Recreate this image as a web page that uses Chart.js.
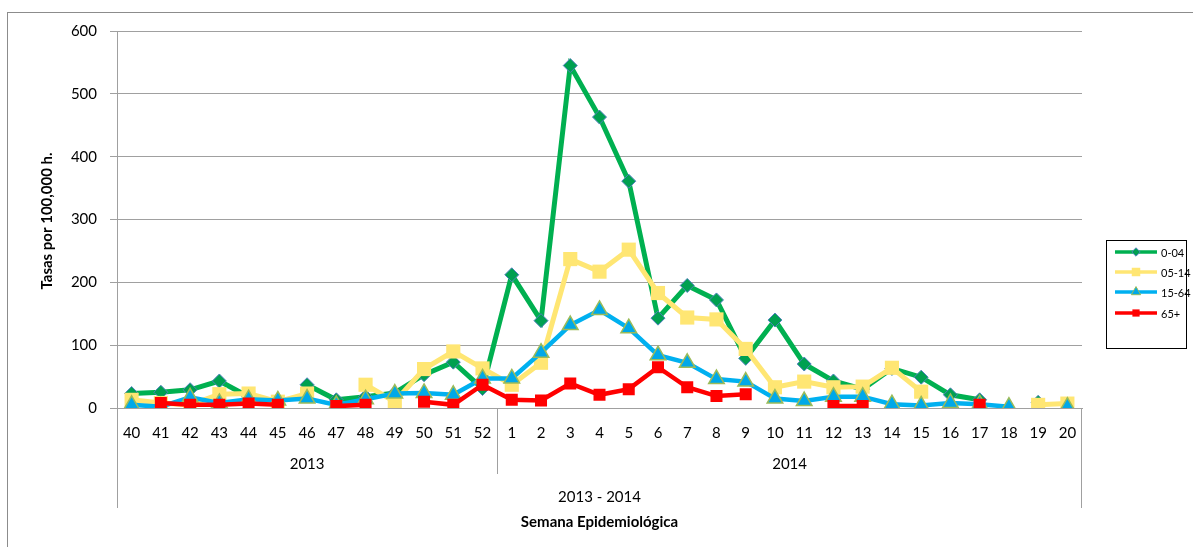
<!DOCTYPE html>
<html>
<head>
<meta charset="utf-8">
<script src="https://cdn.jsdelivr.net/npm/chart.js@4.4.1/dist/chart.umd.min.js"></script>
<style>
  html, body { margin: 0; padding: 0; background: #fff; overflow: hidden; }
  #wrap { position: relative; width: 1193px; height: 547px; }
  #frame { position: absolute; left: 7px; top: 12px; width: 1200px; height: 600px; border: 1px solid #8c8c8c; box-sizing: border-box; }
  canvas { position: absolute; left: 0; top: 0; }
</style>
</head>
<body>
<div id="wrap">
  <div id="frame"></div>
  <canvas id="chart" width="1193" height="547"></canvas>
</div>
<script>
const weeks = ['40','41','42','43','44','45','46','47','48','49','50','51','52',
  '1','2','3','4','5','6','7','8','9','10','11','12','13','14','15','16','17','18','19','20'];
const years = [ { label: '2013', from: 0, to: 12 }, { label: '2014', from: 13, to: 32 } ];
const seasonLabel = '2013 - 2014';

const age0_04  = [23, 25, 29, 43, 18, null, 37, 13, 18, 24, 53, 73, 31,
  212, 139, 545, 463, 361, 143, 195, 172, 79, 140, 70, 43, 30, 63, 49, 21, 13, null, 9, null];
const age05_14 = [13, 8, 5, 22, 23, 10, 23, null, 37, 10, 62, 90, 63,
  37, 72, 237, 217, 252, 183, 144, 141, 94, 33, 42, 33, 34, 64, 26, null, null, null, 5, 7];
const age15_64 = [5, 2, 17, 8, 14, 12, 15, 5, 14, 23, 24, 21, 47,
  47, 88, 132, 156, 127, 84, 72, 46, 42, 15, 11, 18, 18, 6, 4, 8, 6, 2, null, 2];
const age65    = [null, 8, 5, 5, 7, 5, null, 3, 5, null, 10, 5, 37,
  13, 12, 39, 21, 30, 65, 33, 19, 22, null, null, 3, 3, null, null, null, 5, null, null, null];

const FONT = 'Lato, "Open Sans", sans-serif';
const GRID = '#a0a0a0';

const series = [
  { label: '0-04',  data: age0_04,  color: '#00b050', style: 'rectRot',  radius: 7,   fill: '#00a050', border: '#4f81bd', bw: 1,   order: 4, width: 5 },
  { label: '05-14', data: age05_14, color: '#ffe673', style: 'rect',     radius: 10,  fill: '#ffe673', border: '#ffe673', bw: 0,   order: 3, width: 5 },
  { label: '15-64', data: age15_64, color: '#00b0f0', style: 'triangle', radius: 9,   fill: '#00a8e8', border: '#9bbb59', bw: 1.5, order: 2, width: 4.5 },
  { label: '65+',   data: age65,    color: '#ff0000', style: 'rect',     radius: 8.5, fill: '#ff0000', border: '#ff0000', bw: 0,   order: 1, width: 4.5 }
];

const extras = {
  id: 'extras',
  afterDraw(chart) {
    const { ctx, chartArea: a, scales: { x } } = chart;
    const step = (a.right - a.left) / weeks.length;
    ctx.save();
    ctx.strokeStyle = GRID;
    ctx.lineWidth = 1;
    // category group dividers
    ctx.beginPath();
    ctx.moveTo(a.left + 0.5, a.bottom); ctx.lineTo(a.left + 0.5, 508);
    ctx.moveTo(a.right - 0.5, a.bottom); ctx.lineTo(a.right - 0.5, 508);
    const sep = Math.round(x.getPixelForValue(12) + step / 2) + 0.5;
    ctx.moveTo(sep, a.bottom); ctx.lineTo(sep, 474);
    ctx.stroke();

    ctx.fillStyle = '#000';
    ctx.textAlign = 'center';
    ctx.textBaseline = 'middle';
    ctx.font = '15px ' + FONT;
    years.forEach(yr => {
      const cx = (x.getPixelForValue(yr.from) + x.getPixelForValue(yr.to)) / 2;
      ctx.fillText(yr.label, cx, 464);
    });
    ctx.fillText(seasonLabel, (a.left + a.right) / 2, 497);
    ctx.font = 'bold 15px ' + FONT;
    ctx.fillText('Semana Epidemiológica', (a.left + a.right) / 2, 522);

    // y axis title
    ctx.save();
    ctx.translate(47, 221);
    ctx.rotate(-Math.PI / 2);
    ctx.font = 'bold 15px ' + FONT;
    ctx.fillText('Tasas por 100,000 h.', 0, 0);
    ctx.restore();

    // legend
    ctx.strokeStyle = '#000';
    ctx.lineWidth = 1;
    ctx.strokeRect(1106.5, 240.5, 80, 108);
    const rows = [252, 272, 292, 313];
    series.forEach((s, i) => {
      const y = rows[i];
      ctx.strokeStyle = s.color;
      ctx.lineWidth = 3.5;
      ctx.beginPath(); ctx.moveTo(1115, y); ctx.lineTo(1157, y); ctx.stroke();
      ctx.fillStyle = s.fill;
      ctx.strokeStyle = s.border;
      ctx.lineWidth = 1;
      Chart.helpers.drawPoint(ctx, { pointStyle: s.style, radius: s.radius * 0.6, borderWidth: s.bw }, 1136, y);
      ctx.fillStyle = '#000';
      ctx.textAlign = 'left';
      ctx.font = '11px ' + FONT;
      ctx.fillText(s.label, 1161, y + 1);
    });
    ctx.restore();
  }
};

new Chart(document.getElementById('chart'), {
  type: 'line',
  data: {
    labels: weeks,
    datasets: series.map(s => ({
      label: s.label,
      data: s.data,
      borderColor: s.color,
      borderWidth: s.width,
      pointStyle: s.style,
      pointRadius: s.radius,
      pointHoverRadius: s.radius,
      pointBackgroundColor: s.fill,
      pointBorderColor: s.border,
      pointBorderWidth: s.bw,
      tension: 0,
      spanGaps: false,
      order: s.order
    }))
  },
  options: {
    responsive: false,
    animation: false,
    layout: { padding: { top: 31, right: 111, left: 0, bottom: 0 } },
    plugins: { legend: { display: false }, tooltip: { enabled: false } },
    scales: {
      x: {
        offset: true,
        grid: { display: false },
        border: { color: GRID, width: 1 },
        ticks: { color: '#000', font: { family: FONT, size: 15 }, autoSkip: false, maxRotation: 0, padding: 8 },
        afterFit: s => { s.height = 139; }
      },
      y: {
        min: 0, max: 600,
        grid: { color: GRID, lineWidth: 1, tickLength: 7 },
        border: { color: GRID, width: 1 },
        ticks: { stepSize: 100, color: '#000', font: { family: FONT, size: 15 }, padding: 13 },
        afterFit: s => { s.width = 117; }
      }
    }
  },
  plugins: [extras]
});
</script>
</body>
</html>
